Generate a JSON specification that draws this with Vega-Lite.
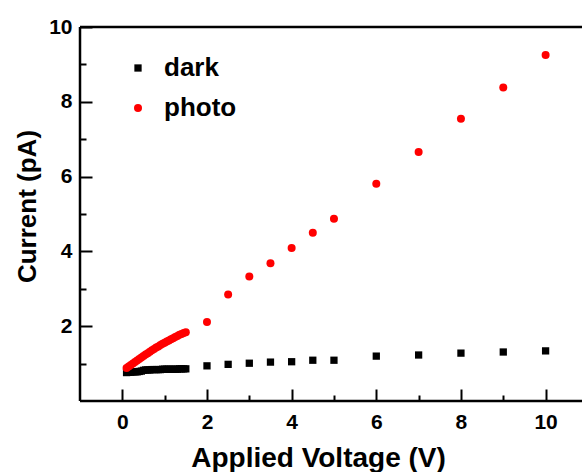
{
  "$schema": "https://vega.github.io/schema/vega-lite/v6.json",
  "autosize": "none",
  "width": 502,
  "height": 374,
  "padding": {"left": 80, "top": 27, "right": 0, "bottom": 71},
  "background": "white",
  "config": {
    "view": {"stroke": null},
    "font": "Liberation Sans",
    "axis": {"grid": false, "domain": false, "tickColor": "black", "labelColor": "black", "titleColor": "black", "labelFont": "Liberation Sans", "titleFont": "Liberation Sans", "labelFontWeight": "bold", "titleFontWeight": "bold"}
  },
  "datasets": {
    "hframe": [
      {"xa": -1, "xb": 10.86, "ya": 10},
      {"xa": -1, "xb": 10.86, "ya": 0}
    ],
    "vframe": [
      {"xa": -1, "ya": 0, "yb": 10}
    ],
    "iv": [
      {"V": 0.10, "I": 0.76, "series": "dark"},
      {"V": 0.15, "I": 0.77, "series": "dark"},
      {"V": 0.20, "I": 0.77, "series": "dark"},
      {"V": 0.25, "I": 0.78, "series": "dark"},
      {"V": 0.30, "I": 0.78, "series": "dark"},
      {"V": 0.35, "I": 0.78, "series": "dark"},
      {"V": 0.40, "I": 0.79, "series": "dark"},
      {"V": 0.45, "I": 0.80, "series": "dark"},
      {"V": 0.50, "I": 0.82, "series": "dark"},
      {"V": 0.55, "I": 0.83, "series": "dark"},
      {"V": 0.60, "I": 0.83, "series": "dark"},
      {"V": 0.65, "I": 0.83, "series": "dark"},
      {"V": 0.70, "I": 0.84, "series": "dark"},
      {"V": 0.75, "I": 0.84, "series": "dark"},
      {"V": 0.80, "I": 0.84, "series": "dark"},
      {"V": 0.85, "I": 0.84, "series": "dark"},
      {"V": 0.90, "I": 0.84, "series": "dark"},
      {"V": 0.95, "I": 0.85, "series": "dark"},
      {"V": 1.00, "I": 0.85, "series": "dark"},
      {"V": 1.05, "I": 0.85, "series": "dark"},
      {"V": 1.10, "I": 0.85, "series": "dark"},
      {"V": 1.15, "I": 0.85, "series": "dark"},
      {"V": 1.20, "I": 0.85, "series": "dark"},
      {"V": 1.25, "I": 0.85, "series": "dark"},
      {"V": 1.30, "I": 0.85, "series": "dark"},
      {"V": 1.35, "I": 0.86, "series": "dark"},
      {"V": 1.40, "I": 0.86, "series": "dark"},
      {"V": 1.45, "I": 0.86, "series": "dark"},
      {"V": 1.50, "I": 0.86, "series": "dark"},
      {"V": 2.0, "I": 0.94, "series": "dark"},
      {"V": 2.5, "I": 0.98, "series": "dark"},
      {"V": 3.0, "I": 1.01, "series": "dark"},
      {"V": 3.5, "I": 1.04, "series": "dark"},
      {"V": 4.0, "I": 1.05, "series": "dark"},
      {"V": 4.5, "I": 1.09, "series": "dark"},
      {"V": 5.0, "I": 1.09, "series": "dark"},
      {"V": 6.0, "I": 1.20, "series": "dark"},
      {"V": 7.0, "I": 1.23, "series": "dark"},
      {"V": 8.0, "I": 1.28, "series": "dark"},
      {"V": 9.0, "I": 1.31, "series": "dark"},
      {"V": 10.0, "I": 1.34, "series": "dark"},
      {"V": 0.10, "I": 0.88, "series": "photo"},
      {"V": 0.15, "I": 0.92, "series": "photo"},
      {"V": 0.20, "I": 0.96, "series": "photo"},
      {"V": 0.25, "I": 1.00, "series": "photo"},
      {"V": 0.30, "I": 1.04, "series": "photo"},
      {"V": 0.35, "I": 1.08, "series": "photo"},
      {"V": 0.40, "I": 1.12, "series": "photo"},
      {"V": 0.45, "I": 1.16, "series": "photo"},
      {"V": 0.50, "I": 1.20, "series": "photo"},
      {"V": 0.55, "I": 1.24, "series": "photo"},
      {"V": 0.60, "I": 1.28, "series": "photo"},
      {"V": 0.65, "I": 1.32, "series": "photo"},
      {"V": 0.70, "I": 1.36, "series": "photo"},
      {"V": 0.75, "I": 1.39, "series": "photo"},
      {"V": 0.80, "I": 1.43, "series": "photo"},
      {"V": 0.85, "I": 1.46, "series": "photo"},
      {"V": 0.90, "I": 1.50, "series": "photo"},
      {"V": 0.95, "I": 1.53, "series": "photo"},
      {"V": 1.00, "I": 1.56, "series": "photo"},
      {"V": 1.05, "I": 1.59, "series": "photo"},
      {"V": 1.10, "I": 1.62, "series": "photo"},
      {"V": 1.15, "I": 1.65, "series": "photo"},
      {"V": 1.20, "I": 1.68, "series": "photo"},
      {"V": 1.25, "I": 1.71, "series": "photo"},
      {"V": 1.30, "I": 1.74, "series": "photo"},
      {"V": 1.35, "I": 1.77, "series": "photo"},
      {"V": 1.40, "I": 1.79, "series": "photo"},
      {"V": 1.45, "I": 1.82, "series": "photo"},
      {"V": 1.50, "I": 1.84, "series": "photo"},
      {"V": 2.0, "I": 2.11, "series": "photo"},
      {"V": 2.5, "I": 2.85, "series": "photo"},
      {"V": 3.0, "I": 3.33, "series": "photo"},
      {"V": 3.5, "I": 3.68, "series": "photo"},
      {"V": 4.0, "I": 4.09, "series": "photo"},
      {"V": 4.5, "I": 4.50, "series": "photo"},
      {"V": 5.0, "I": 4.87, "series": "photo"},
      {"V": 6.0, "I": 5.81, "series": "photo"},
      {"V": 7.0, "I": 6.66, "series": "photo"},
      {"V": 8.0, "I": 7.55, "series": "photo"},
      {"V": 9.0, "I": 8.38, "series": "photo"},
      {"V": 10.0, "I": 9.25, "series": "photo"}
    ]
  },
  "layer": [
    {
      "data": {"name": "hframe"},
      "mark": {"type": "rule", "color": "black", "strokeWidth": 2.5},
      "encoding": {
        "x": {"field": "xa", "type": "quantitative", "scale": {"domain": [-1, 10.86], "nice": false, "zero": false},
              "axis": {"orient": "bottom", "values": [1, 3, 5, 7, 9], "labels": false, "offset": -6, "tickSize": 6, "tickWidth": 2, "title": null}},
        "x2": {"field": "xb"},
        "y": {"field": "ya", "type": "quantitative", "scale": {"domain": [0, 10], "nice": false},
              "axis": {"orient": "left", "values": [1, 3, 5, 7, 9], "labels": false, "offset": -6, "tickSize": 6, "tickWidth": 2, "title": null}}
      }
    },
    {
      "data": {"name": "vframe"},
      "mark": {"type": "rule", "color": "black", "strokeWidth": 2.5},
      "encoding": {
        "x": {"field": "xa", "type": "quantitative", "axis": null},
        "y": {"field": "ya", "type": "quantitative", "axis": null},
        "y2": {"field": "yb"}
      }
    },
    {
      "data": {"name": "iv"},
      "mark": {"type": "point", "filled": true, "opacity": 1, "strokeWidth": 0},
      "encoding": {
        "x": {"field": "V", "type": "quantitative", "scale": {"domain": [-1, 10.86], "nice": false, "zero": false},
              "axis": {"orient": "bottom", "values": [0, 2, 4, 6, 8, 10], "offset": -12, "tickSize": 12, "tickWidth": 2, "labelPadding": 10, "labelFontSize": 21,
                       "title": "Applied Voltage (V)", "titleFontSize": 28, "titleX": 238, "titleY": 77, "titleBaseline": "alphabetic", "titleAnchor": "middle"}},
        "y": {"field": "I", "type": "quantitative", "scale": {"domain": [0, 10], "nice": false},
              "axis": {"orient": "left", "values": [2, 4, 6, 8, 10], "offset": -12, "tickSize": 12, "tickWidth": 2, "labelPadding": 8, "labelFontSize": 21,
                       "title": "Current (pA)", "titleFontSize": 26, "titleAngle": -90, "titleX": -57, "titleY": 179, "titleBaseline": "alphabetic", "titleAnchor": "middle"}},
        "color": {"field": "series", "type": "nominal", "scale": {"domain": ["dark", "photo"], "range": ["#000000", "#ff0000"]},
                  "legend": {"orient": "none", "legendX": 45, "legendY": 28, "title": null, "labelFontSize": 26, "labelFont": "Liberation Sans", "labelFontWeight": "bold", "labelColor": "black", "labelOffset": 13, "rowPadding": 14, "symbolStrokeWidth": 0}},
        "shape": {"field": "series", "type": "nominal", "scale": {"domain": ["dark", "photo"], "range": ["square", "circle"]}},
        "size": {"field": "series", "type": "nominal", "scale": {"domain": ["dark", "photo"], "range": [53, 64]}}
      }
    }
  ],
  "resolve": {"axis": {"x": "independent", "y": "independent"}}
}
